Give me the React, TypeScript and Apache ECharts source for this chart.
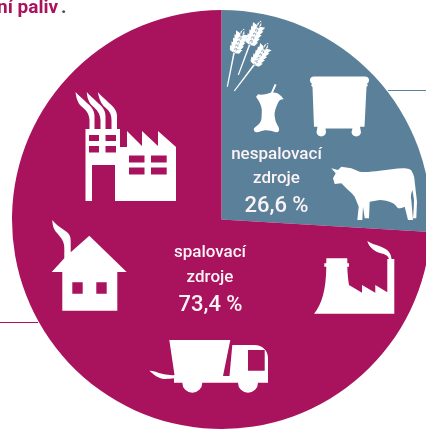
import React, { useEffect, useRef } from "react";
import * as echarts from "echarts";

const categories = ["nespalovací zdroje", "spalovací zdroje"];
// Slice shares as drawn in the picture (its printed labels are in shareLabels).
const drawnShares = [25.95, 74.05];
const shareLabels = ["26,6 %", "73,4 %"];
const sliceColors = ["#5b8099", "#a9125c"];
const headerText = "ní paliv";

function rectHole(x0: number, y0: number, x1: number, y1: number) {
  return `M${x0} ${y0}L${x0} ${y1}L${x1} ${y1}L${x1} ${y0}Z`;
}
function ear(ax: number, ay: number, bx: number, by: number, sx: number, sy: number) {
  const len = Math.hypot(bx - ax, by - ay);
  const ux = (bx - ax) / len, uy = (by - ay) / len;
  const nx = -uy, ny = ux;
  const diamond = (px: number, py: number, dx: number, dy: number, L: number, W: number) => {
    const ex = -dy, ey = dx;
    const p = [
      [px, py],
      [px + dx * L * 0.5 + ex * W, py + dy * L * 0.5 + ey * W],
      [px + dx * L, py + dy * L],
      [px + dx * L * 0.5 - ex * W, py + dy * L * 0.5 - ey * W],
    ];
    return `M${p.map((q) => q[0].toFixed(1) + " " + q[1].toFixed(1)).join("L")}Z`;
  };
  let d = `M${sx - nx * 0.6} ${sy - ny * 0.6}L${ax - nx * 0.8} ${ay - ny * 0.8}L${bx - nx * 0.8} ${by - ny * 0.8}L${bx + nx * 0.8} ${by + ny * 0.8}L${ax + nx * 0.8} ${ay + ny * 0.8}L${sx + nx * 0.6} ${sy + ny * 0.6}Z`;
  const n = 5;
  for (let i = 0; i < n; i++) {
    const t = (i / n) * (len - 5);
    const px = ax + ux * t, py = ay + uy * t;
    for (const s of [1, -1]) {
      const dx = ux * 0.66 + nx * s * 0.75, dy = uy * 0.66 + ny * s * 0.75;
      d += diamond(px, py, dx, dy, 9, 2.4);
    }
  }
  d += diamond(ax + ux * (len - 7), ay + uy * (len - 7), ux, uy, 8.5, 2.2);
  return d;
}

const factoryPath =
  "M85.5 201L85.5 129L89.5 129L89.5 120C89 113 86 110 81 106C77 102 76 96 75.5 92C78 95 82 98 87 103C92 107 94.5 111 94.5 116L94.5 129L100.5 129L100.5 120C100 113 97 110 92.5 106C88 102 87 96 86.8 92C89 95 93 98 98 103C103 107 105.5 111 105.5 116L105.5 129L111.5 129L111.5 120C111.5 113 108.5 110 103.5 106C100 102 98.5 96 97.8 92C100 95 104 98 109 103C114 107 117 111 117 116L117 129L120 129L120 147L127 147L127 131L142 146L142 131L158 146L158 131L176 147L176 201L115 201L115 165L92 165L92 201Z" +
  rectHole(89, 135, 99, 141) + rectHole(105.5, 135, 116, 141) + rectHole(89, 146, 99, 152.5) + rectHole(105.5, 146, 116, 152.5) +
  rectHole(129, 155.5, 144.5, 162.5) + rectHole(151, 155.5, 166.7, 162.5) + rectHole(129, 167.5, 144.5, 174.5) + rectHole(151, 167.5, 166.7, 174.5);

const housePath =
  "M89.3 235.7L126.7 272L117.3 272L117.3 310.7L62.3 310.7L62.3 272L51.7 272L64.3 258.3L64.3 248C64.3 241 61 238 57 233C53 229 52.5 224 52.3 220C55 224 60 227 64 230C69 233 70.7 236 70.7 241L70.7 252.3Z" +
  rectHole(72.3, 282.3, 82.7, 293.7) + rectHole(96.3, 282.3, 106.7, 293.7);

const truckPath =
  "M169.3 340L230.3 340L223 376L175 376L175 378C168 379 163 379.5 160 378C155 376 152 373 149.3 370.7C153 370.5 157 372.5 163 374C168 375 172 375.5 174.5 375Z" +
  "M232.3 345L254 345C263 345 268 351 268 358L268 382.7L258 382.7A10 10 0 0 1 238 382.7L202.3 382.7A10 10 0 0 1 182.3 382.7L174 382.7L174 376L229.5 376Z" +
  rectHole(248, 350, 264.7, 370.7);

const plantPath =
  "M314 313.7C322 304 326 290 326.3 266.7L324.3 266.7L324.3 263.3L326.3 263.3L326.3 258.3L347.3 258.3L347.3 263.3L349 263.3L349 266.7L347.3 266.7C347.5 273 348 279 349 285L362 292.7L362 285L375.3 292.7L375.3 285L387.3 292.3L387.3 259L389 259C388 255 384 254 380 253C374 251 369 247 367.3 241C371 244 376 244.5 381 246.7C387 249 391 252 391.5 259L394.3 259L394.3 313.7Z";

const wheatPath =
  ear(234, 53, 243.5, 30, 227.3, 86.7) + ear(249.5, 45, 260.5, 22, 238.3, 75) + ear(254, 65, 267.5, 44, 234.3, 91);

const applePath =
  "M258 94.3C262 95.5 268 93.5 271 92.5L274.7 84L276.5 84.8L273 92.5C277 92 281 95 283.7 99.3C281 99 279 100 277.5 104C275 110 274 113 275 118C275.5 123 278 125 279 128.3C279.5 131 278.5 132.5 276 132.3C272 131 268 130 265 130.3C262 130.5 259 132.5 256.3 132.3C254 132 253.5 130 254 128.3C257 125 261 124 261.5 118C262 112 262 109 261 106C259.5 101 257 98.5 256 97Z";

const binPath =
  "M314 76.5L365 76.5C367.5 76.5 369 78 369 80C369 82 368.5 83 367 83.5C368 85 368 86 366.5 87L364.5 126.7L360 126.7L361 132.3A4.8 4.8 0 0 1 351.5 132.3L352.5 128.5L325.5 128.5L326 132.3A4.8 4.8 0 0 1 316.5 132.3L317.5 126.7L314 126.7L312.5 87C311 86 311 85 312 83.5C310.5 83 310 82 310 80C310 78 311.5 76.5 314 76.5Z";

const cowPath =
  "M331.3 168.3L338 170L341.3 166.7L351.3 168.3L359.7 171.7C366 172.5 373 171.5 379.7 170.7C388 170 396 168.5 403 168.3C408 168.5 411 169 412 171.7C414 175 414.5 178 414.7 181.7L417 201.7L416.3 218.3L413 218.3C413.5 212 414 206 414 200C413.5 196 413 193 412.3 190C411 194 410.5 197 411.3 200L413 220L408 220L404.7 206.7C402 208 400 208.5 398 208.3C396 206 395 204.5 393 203.3C388 201 384 200 379.7 200L369.7 201.7L369 218.3L364.7 218.3L363 206.7L362.3 220L357.3 220L358.7 206.7L354.7 196.7C352 193 349 191 346.3 188.3L341.3 183.3L334.7 184L333 178.3L335.7 173.3Z";

const icons: Record<string, string> = {
  factory: factoryPath, house: housePath, truck: truckPath, plant: plantPath,
  wheat: wheatPath, apple: applePath, bin: binPath, cow: cowPath,
};
Object.keys(icons).forEach((k) => {
  echarts.graphic.registerShape("icon_" + k, echarts.graphic.extendPath(icons[k], {}) as any);
});

const FONT = 'Roboto, sans-serif';

export default function App() {
  const ref = useRef<HTMLDivElement>(null);
  useEffect(() => {
    const chart = echarts.init(ref.current!, null, { renderer: "svg" });
    const text = (s: string, x: number, y: number, size: number, weight: number, fill = "#fbf3f7", align = "center") => ({
      type: "text", x, y, z: 10,
      style: { text: s, fill, textAlign: align, textVerticalAlign: "bottom", font: `${weight} ${size}px ${FONT}` },
    });
    const iconShapes = Object.keys(icons).map((k) => ({
      type: "icon_" + k, x: 0, y: 0, z: 9, style: { fill: "#ffffff" },
    }));
    const [blueA, blueB] = categories[0].split(" ");
    const [magA, magB] = categories[1].split(" ");
    chart.setOption({
      animation: false,
      series: [{
        type: "pie",
        center: [221.5, 219.5],
        radius: [0, 209.5],
        startAngle: 90,
        silent: true,
        label: { show: false },
        labelLine: { show: false },
        data: categories.map((name, i) => ({ name, value: drawnShares[i], itemStyle: { color: sliceColors[i] } })),
      }],
      graphic: [
        { type: "line", z: 1, shape: { x1: 388, y1: 90.5, x2: 426, y2: 90.5 }, style: { stroke: "#5b8099", lineWidth: 1 } },
        { type: "line", z: 1, shape: { x1: 0, y1: 322.5, x2: 38, y2: 322.5 }, style: { stroke: "#a9125c", lineWidth: 1 } },
        ...iconShapes,
        text(headerText, -3, 16, 19, 700, "#a9125c", "left"),
        text(".", 61, 16, 19, 700, "#3f4a52", "left"),
        text(blueA, 276.5, 161, 17, 500),
        text(blueB, 276.5, 185, 17, 500),
        text(shareLabels[0], 276.5, 215, 22, 500),
        text(magA, 210, 259.5, 17, 500),
        text(magB, 210, 284, 17, 500),
        text(shareLabels[1], 210.5, 314.5, 22, 500),
      ],
    });
    return () => chart.dispose();
  }, []);
  return <div ref={ref} style={{ position: "fixed", left: 0, top: 0, width: 426, height: 429 }} />;
}
